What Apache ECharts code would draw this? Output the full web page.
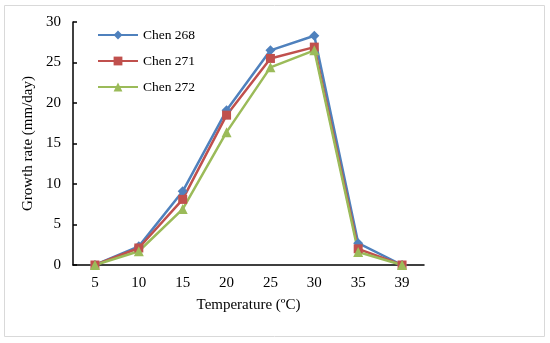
<!DOCTYPE html>
<html><head><meta charset="utf-8">
<script src="https://cdn.jsdelivr.net/npm/echarts@6/dist/echarts.min.js"></script>
<style>html,body{margin:0;padding:0;background:#fff}#c{width:550px;height:343px}</style>
</head><body><div id="c"></div>
<script>
const categories = ['5','10','15','20','25','30','35','39'];
const chen268 = [0, 2.3, 9.1, 19.1, 26.5, 28.3, 2.7, 0];
const chen271 = [0, 2.1, 8.1, 18.5, 25.5, 26.9, 2.0, 0];
const chen272 = [0, 1.7, 6.9, 16.4, 24.4, 26.5, 1.6, 0];
const seriesNames = ['Chen 268','Chen 271','Chen 272'];
const font = 'Liberation Serif';
const chart = echarts.init(document.getElementById('c'));
function mk(name, data, color, symbol, size){
  return {name, type:'line', data, symbol, symbolSize:size,
    lineStyle:{color, width:2.5}, itemStyle:{color}, z: 2};
}
chart.setOption({
  animation:false,
  textStyle:{fontFamily:font},
  graphic:[{type:'rect', shape:{x:4.5,y:5.5,width:540,height:331}, style:{fill:'none', stroke:'#d9d9d9', lineWidth:1}, silent:true}],
  grid:{left:73, top:22, right:126, bottom:78, containLabel:false},
  legend:{orient:'vertical', left:92, top:23, itemWidth:40, itemHeight:11, itemGap:12,
    textStyle:{fontFamily:font, fontSize:13.5, color:'#000'}, data:seriesNames},
  xAxis:{type:'category', data:categories, boundaryGap:true,
    name:'Temperature (ºC)', nameLocation:'middle', nameGap:33,
    nameTextStyle:{fontFamily:font, fontSize:15, color:'#000'},
    axisLine:{lineStyle:{color:'#000', width:1.5}},
    axisTick:{inside:true, length:4, lineStyle:{color:'#000', width:1.5}},
    axisLabel:{fontFamily:font, fontSize:15, color:'#000', margin:11}},
  yAxis:{type:'value', min:0, max:30, interval:5,
    name:'Growth rate (mm/day)', nameLocation:'middle', nameGap:34, nameRotate:90,
    nameTextStyle:{fontFamily:font, fontSize:15, color:'#000'},
    axisLine:{show:true, lineStyle:{color:'#000', width:1.5}},
    axisTick:{show:true, inside:true, length:4, lineStyle:{color:'#000', width:1.5}},
    splitLine:{show:false},
    axisLabel:{fontFamily:font, fontSize:15, color:'#000', margin:12}},
  series:[
    mk(seriesNames[0], chen268, '#4F81BD', 'diamond', 10),
    mk(seriesNames[1], chen271, '#C0504D', 'rect', 9),
    mk(seriesNames[2], chen272, '#9BBB59', 'triangle', 10)
  ]
});
</script></body></html>
